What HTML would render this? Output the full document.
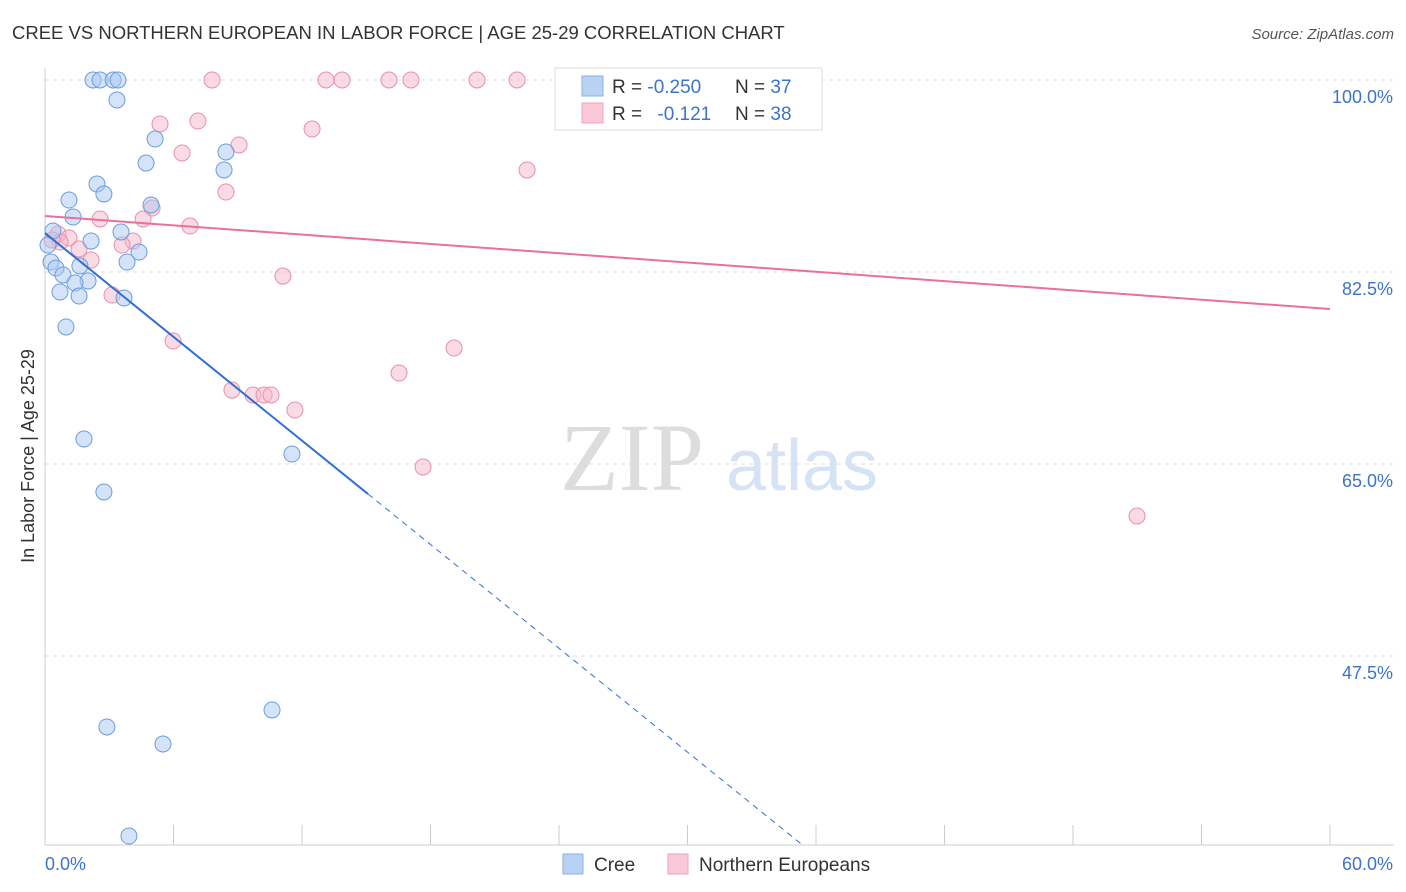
<!DOCTYPE html>
<html><head><meta charset="utf-8"><style>
body{margin:0;background:#fff;font-family:"Liberation Sans",sans-serif;}
svg{display:block}
</style></head><body>
<svg id="chart" width="1406" height="892">
<text x="12" y="39" font-size="18.5" fill="#333">CREE VS NORTHERN EUROPEAN IN LABOR FORCE | AGE 25-29 CORRELATION CHART</text>
<text x="1394" y="39" font-size="15" fill="#555" font-style="italic" text-anchor="end">Source: ZipAtlas.com</text>
<text x="34" y="456" font-size="18" fill="#333" text-anchor="middle" transform="rotate(-90 34 456)">In Labor Force | Age 25-29</text>
<g>
<text x="632" y="490" font-size="96" fill="#ddd" font-family="Liberation Serif,serif" text-anchor="middle">ZIP</text>
<text x="802" y="490" font-size="72" fill="#d6e3f4" text-anchor="middle">atlas</text>
</g>
<g id="grid"></g><g id="axes"></g><g id="marks"></g>
<g>
<rect x="555" y="68" width="267" height="62" fill="#fff" stroke="#ddd"/>
<rect x="582" y="76" width="21" height="20" fill="#b8d2f4" stroke="#8ab2e8"/>
<rect x="582" y="103" width="21" height="20" fill="#fac8d6" stroke="#eea6bc"/>
<text x="612" y="93" font-size="19" fill="#333">R = <tspan fill="#3d73c9">-0.250</tspan></text>
<text x="735" y="93" font-size="19" fill="#333">N = <tspan fill="#3d73c9">37</tspan></text>
<text x="612" y="120" font-size="19" fill="#333">R = <tspan fill="#3d73c9" dx="10">-0.121</tspan></text>
<text x="735" y="120" font-size="19" fill="#333">N = <tspan fill="#3d73c9">38</tspan></text>
</g>
<g>
<rect x="563" y="854" width="20" height="20" fill="#b8d2f4" stroke="#8ab2e8"/>
<text x="594" y="871" font-size="19" fill="#333">Cree</text>
<rect x="668" y="854" width="20" height="20" fill="#fac8d6" stroke="#eea6bc"/>
<text x="699" y="871" font-size="19" fill="#333">Northern Europeans</text>
</g>
</svg>
<script>
const xTicks=[0,60];
const yTicks=[100,82.5,65,47.5];
const creeX=[2.24,2.57,3.18,3.41,3.36,5.14,4.72,8.45,8.36,2.43,2.75,1.12,4.95,1.31,3.55,0.37,2.15,0.14,4.39,3.83,0.28,0.51,1.63,0.84,2.01,1.40,0.70,1.59,3.69,0.98,1.82,11.53,2.75,10.60,2.89,5.51,3.92];
const creeY=[100,100,100,100,98.18,94.62,92.43,93.44,91.80,90.52,89.61,89.06,88.61,87.51,86.15,86.24,85.32,84.96,84.32,83.41,83.41,82.86,83.05,82.23,81.68,81.50,80.68,80.31,80.13,77.49,67.28,65.91,62.45,42.58,41.03,39.48,31.09];
const neX=[7.80,13.12,13.87,16.06,17.09,20.17,22.04,7.14,5.37,12.47,6.40,9.06,22.51,8.45,5.00,2.57,4.58,6.77,0.61,1.12,0.70,4.11,3.60,1.59,2.15,11.11,3.13,5.98,19.10,16.53,8.73,9.71,10.23,10.55,11.67,17.65,50.99,0.33];
const neY=[100,100,100,100,100,100,100,96.26,95.99,95.53,93.35,94.08,91.80,89.79,88.33,87.33,87.33,86.69,85.96,85.60,85.23,85.32,84.96,84.60,83.59,82.13,80.40,76.21,75.57,73.29,71.74,71.29,71.29,71.29,69.92,64.73,60.26,85.42];
const creeTrend=[86.05,-1.577];
const neTrend=[87.6,-0.1412];
const sx=v=>45+v/60*1285;
const sy=v=>80+(100-v)*192/17.5;
const NS='http://www.w3.org/2000/svg';
function mk(t,a,p){const e=document.createElementNS(NS,t);for(const k in a)e.setAttribute(k,a[k]);p.appendChild(e);return e;}
const grid=document.getElementById('grid'),axes=document.getElementById('axes'),marks=document.getElementById('marks');
yTicks.forEach(v=>{
 const l=mk('line',{x1:45,x2:1394,y1:sy(v),y2:sy(v),stroke:'#ddd','stroke-dasharray':'4,4'},grid);
 
 
 const t=mk('text',{x:1393,y:sy(v)+23,'font-size':18,fill:'#3d73c9','text-anchor':'end'},axes);
 t.textContent=v.toFixed(1)+'%';
 
 
});
mk('line',{x1:45,x2:45,y1:68,y2:845,stroke:'#ccc'},axes);
mk('line',{x1:45,x2:1394,y1:845,y2:845,stroke:'#ccc'},axes);
for(let i=0;i<=10;i++){const x=sx(i*6);mk('line',{x1:x,x2:x,y1:825,y2:845,stroke:'#ccc'},axes);}
xTicks.forEach((v,i)=>{
 const t=mk('text',{x:i?1393:45,y:870,'font-size':18,fill:'#3d73c9','text-anchor':i?'end':'start'},axes);
 t.textContent=v.toFixed(1)+'%';
 
 
});
function pts(X,Y,fill,stroke,name){X.forEach((x,i)=>{
 const c=mk('circle',{cx:sx(x),cy:sy(Y[i]),r:8,fill:fill,'fill-opacity':0.5,stroke:stroke,'stroke-width':1},marks);
 
 
});}
pts(neX,neY,'#f6b8cb','#e890aa','northern-european-point');
pts(creeX,creeY,'#a9c8f0','#6a9de0','cree-point');
const ce=15.08, cd=(30.3-creeTrend[0])/creeTrend[1];
let l=mk('line',{x1:sx(0),y1:sy(creeTrend[0]),x2:sx(ce),y2:sy(creeTrend[0]+creeTrend[1]*ce),stroke:'#2f6fd6','stroke-width':2},marks);


l=mk('line',{x1:sx(ce),y1:sy(creeTrend[0]+creeTrend[1]*ce),x2:sx(cd),y2:sy(30.3),stroke:'#2f6fd6','stroke-width':1,'stroke-dasharray':'6,5'},marks);


l=mk('line',{x1:sx(0),y1:sy(neTrend[0]),x2:sx(60),y2:sy(neTrend[0]+neTrend[1]*60),stroke:'#e8709a','stroke-width':2},marks);


</script>
</body></html>
